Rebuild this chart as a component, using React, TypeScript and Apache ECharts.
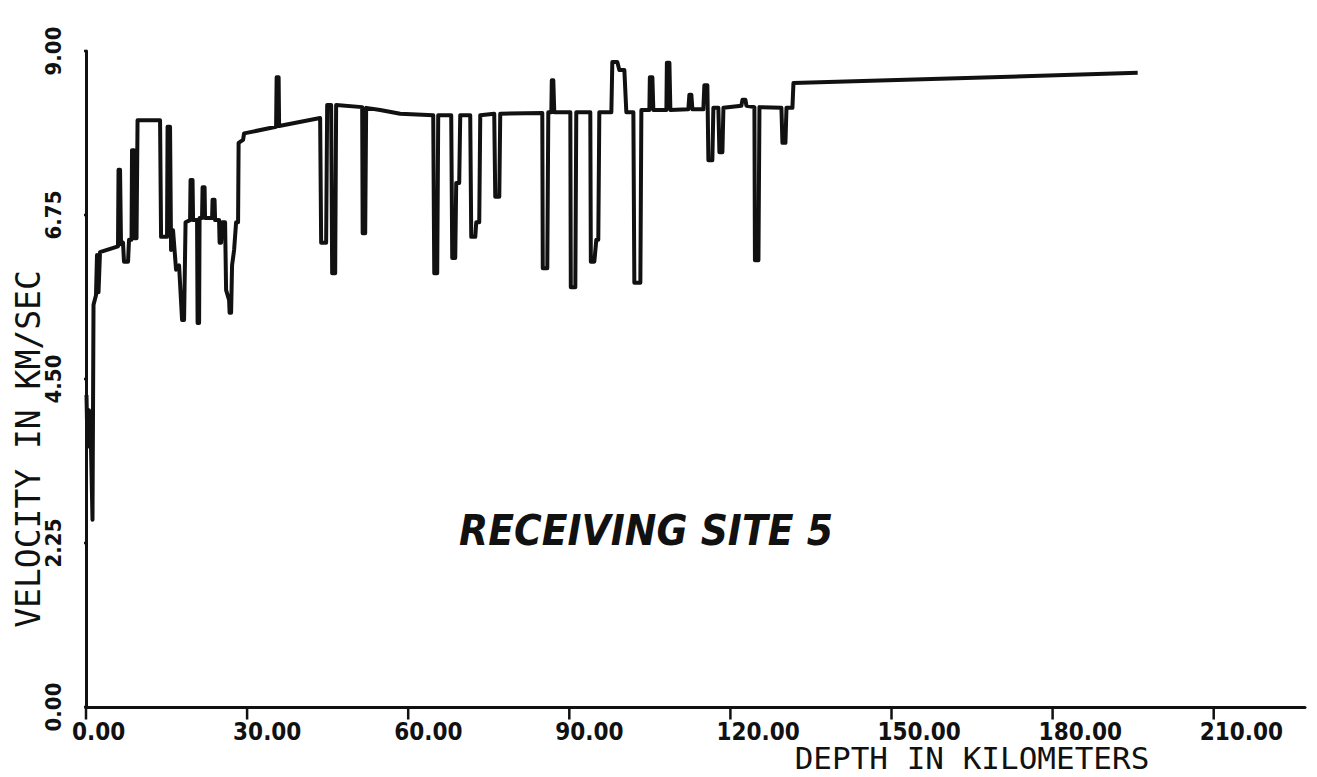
import React, { useEffect, useRef } from "react";
import * as echarts from "echarts";

const depthKm = [
  0.09, 0.28, 0.56, 0.93, 1.21, 1.4, 1.86, 2.05, 2.33, 2.61, 5.96, 6.06, 6.34, 6.52, 6.89, 7.08, 7.83, 8.01, 8.48,
  8.57, 8.94, 9.04, 9.41, 9.6, 13.79, 13.98, 15.09, 15.19, 15.65, 15.84, 16.21, 16.77, 17.33, 17.89, 18.26, 18.54,
  19.38, 19.47, 19.84, 19.94, 20.68, 20.78, 21.06, 21.15, 21.61, 21.71, 22.08, 22.17, 23.48, 23.57, 23.94, 24.04,
  24.78, 24.88, 25.16, 25.34, 25.9, 26.09, 26.65, 26.74, 27.02, 27.2, 27.58, 27.95, 28.32, 28.42, 29.25, 29.44,
  35.4, 35.5, 35.87, 35.96, 43.6, 43.79, 44.72, 44.91, 45.65, 45.84, 46.4, 46.58, 51.43, 51.52, 51.99, 52.17,
  54.78, 58.51, 64.66, 64.85, 65.4, 65.59, 68.01, 68.2, 68.76, 68.94, 69.5, 69.69, 71.55, 71.74, 72.49, 72.67,
  73.23, 73.42, 76.02, 76.21, 76.96, 77.14, 84.97, 85.06, 85.9, 86.09, 86.65, 86.74, 87.02, 87.2, 90.19, 90.28,
  91.12, 91.3, 93.91, 94.01, 94.66, 95.03, 95.4, 95.59, 97.83, 98.01, 98.94, 99.32, 100.25, 100.62, 101.93,
  102.11, 103.23, 103.42, 104.91, 105.0, 105.47, 105.65, 108.08, 108.17, 108.64, 108.82, 112.17, 112.36, 112.73,
  112.92, 114.96, 115.15, 115.71, 115.9, 116.64, 116.83, 117.76, 117.95, 118.51, 118.7, 122.05, 122.24, 122.8,
  122.98, 124.47, 124.57, 125.22, 125.41, 129.5, 129.69, 130.25, 130.44, 131.55, 131.74, 195.84,
];

const velocityKmS = [
  4.28, 3.57, 4.07, 3.57, 2.57, 5.52, 5.65, 6.2, 5.69, 6.24, 6.32, 7.37, 7.37, 6.35, 6.37, 6.11, 6.11, 6.41, 6.41,
  7.64, 7.64, 6.43, 6.43, 8.05, 8.05, 6.45, 6.45, 7.96, 7.96, 6.27, 6.54, 6.0, 6.06, 5.31, 5.31, 6.65,
  6.68, 7.23, 7.23, 6.68, 6.68, 5.27, 5.27, 6.71, 6.71, 7.13, 7.13, 6.71, 6.71, 6.96, 6.96, 6.68,
  6.68, 6.37, 6.37, 6.65, 6.65, 5.72, 5.58, 5.41, 5.41, 6.06, 6.27, 6.65, 6.65, 7.74, 7.78, 7.87,
  7.96, 8.64, 8.64, 7.97, 8.08, 6.37, 6.37, 8.26, 8.26, 5.95, 5.95, 8.26, 8.23, 6.5, 6.5, 8.22,
  8.19, 8.14, 8.12, 5.95, 5.95, 8.12, 8.12, 6.16, 6.16, 7.19, 7.19, 8.12, 8.12, 6.45, 6.45, 6.65,
  6.65, 8.12, 8.14, 7.0, 7.0, 8.14, 8.15, 6.02, 6.02, 8.16, 8.16, 8.6, 8.6, 8.16, 8.16, 5.76,
  5.76, 8.16, 8.16, 6.11, 6.11, 6.41, 6.41, 8.16, 8.16, 8.85, 8.85, 8.74, 8.74, 8.16, 8.16,
  5.82, 5.82, 8.19, 8.19, 8.64, 8.64, 8.19, 8.19, 8.84, 8.84, 8.19, 8.2, 8.4, 8.4,
  8.2, 8.2, 8.53, 8.53, 7.5, 7.5, 8.22, 8.22, 7.61, 7.61, 8.22, 8.25, 8.33, 8.33,
  8.25, 8.23, 6.13, 6.13, 8.23, 8.22, 7.74, 7.74, 8.22, 8.22, 8.56, 8.7,
];

const xTickValues = [0, 30, 60, 90, 120, 150, 180, 210];
const yTickValues = [0, 2.25, 4.5, 6.75, 9];
const xAxisTitle = "DEPTH IN KILOMETERS";
const yAxisTitle = "VELOCITY IN KM/SEC";
const chartLabel = "RECEIVING SITE 5";

const INK = "#111111";
const FONT = "'DejaVu Sans Condensed', 'DejaVu Sans', sans-serif";
const MONO = "'DejaVu Sans Mono', monospace";

// tick lengths expressed in axis units (x: km per tick length, y: km/s per tick length)
const X_TICK_LEN_KMS = 0.17;
const Y_TICK_LEN_KM = 2.4;

export default function App() {
  const ref = useRef<HTMLDivElement>(null);

  useEffect(() => {
    document.body.style.margin = "0";
    if (!ref.current) return;
    const chart = echarts.init(ref.current, null, { renderer: "svg" });
    const points = depthKm.map((d, i) => [d, velocityKmS[i]]);

    const tickSegments: any[] = [];
    xTickValues.forEach((v) => {
      tickSegments.push([v, 0], [v, -X_TICK_LEN_KMS], [NaN, NaN]);
    });
    yTickValues.forEach((v) => {
      tickSegments.push([0, v], [-Y_TICK_LEN_KM, v], [NaN, NaN]);
    });

    chart.setOption({
      animation: false,
      backgroundColor: "#ffffff",
      grid: { left: 86, right: 12, top: 51, bottom: 70, containLabel: false },
      xAxis: {
        type: "value",
        min: 0,
        max: 227,
        interval: 30,
        splitLine: { show: false },
        axisLine: { show: true, lineStyle: { color: INK, width: 3 } },
        axisTick: { show: false },
        axisLabel: {
          formatter: (v: number) => (xTickValues.indexOf(v) >= 0 ? v.toFixed(2) : ""),
          color: INK,
          fontFamily: FONT,
          fontWeight: "bold",
          fontSize: 24,
          margin: 13,
          align: "left",
          padding: [0, 0, 0, -14],
        },
      },
      yAxis: {
        type: "value",
        min: 0,
        max: 9,
        interval: 2.25,
        splitLine: { show: false },
        axisLine: { show: true, lineStyle: { color: INK, width: 3 } },
        axisTick: { show: false },
        axisLabel: {
          formatter: (v: number) => (yTickValues.indexOf(v) >= 0 ? v.toFixed(2) : ""),
          rotate: 90,
          color: INK,
          fontFamily: FONT,
          fontWeight: "bold",
          fontSize: 22,
          margin: 22,
        },
      },
      series: [
        {
          type: "line",
          data: points,
          showSymbol: false,
          symbol: "none",
          lineStyle: { color: INK, width: 4, join: "round" },
          z: 3,
        },
        {
          type: "line",
          name: "ticks",
          data: tickSegments,
          clip: false,
          connectNulls: false,
          showSymbol: false,
          symbol: "none",
          silent: true,
          lineStyle: { color: INK, width: 2.5, cap: "butt" },
          z: 20,
        },
      ],
      graphic: [
        {
          type: "text",
          x: 28,
          y: 449,
          rotation: Math.PI / 2,
          style: {
            text: yAxisTitle,
            fill: INK,
            font: `33px ${MONO}`,
            textAlign: "center",
            textVerticalAlign: "middle",
          },
        },
        {
          type: "text",
          x: 972,
          y: 758,
          style: {
            text: xAxisTitle,
            fill: INK,
            font: `31px ${MONO}`,
            textAlign: "center",
            textVerticalAlign: "middle",
          },
        },
        {
          type: "text",
          x: 646,
          y: 530,
          style: {
            text: chartLabel,
            fill: INK,
            font: `italic bold 42px ${FONT}`,
            textAlign: "center",
            textVerticalAlign: "middle",
          },
        },
      ],
    });

    return () => chart.dispose();
  }, []);

  return <div ref={ref} style={{ width: 1317, height: 777 }} />;
}
